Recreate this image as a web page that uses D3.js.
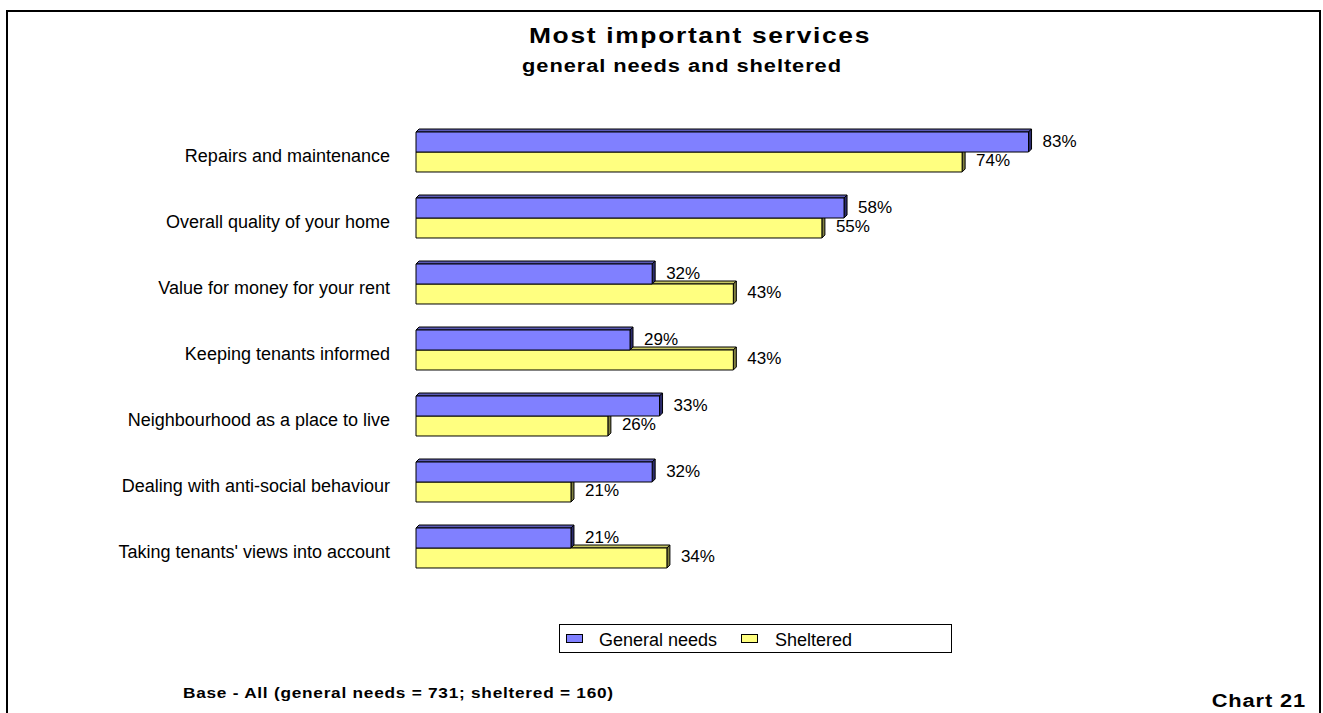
<!DOCTYPE html>
<html>
<head>
<meta charset="utf-8">
<script src="https://cdn.jsdelivr.net/npm/d3@7"></script>
<style>
  html, body { margin: 0; padding: 0; background: #fff; }
  svg { display: block; font-family: "Liberation Sans", Arial, sans-serif; }
</style>
</head>
<body>
<svg id="chart" width="1323" height="713"></svg>
<script>
// Survey results: share of tenants naming each service as most important
const categories = [
  "Repairs and maintenance",
  "Overall quality of your home",
  "Value for money for your rent",
  "Keeping tenants informed",
  "Neighbourhood as a place to live",
  "Dealing with anti-social behaviour",
  "Taking tenants' views into account"
];
const generalNeeds = [83, 58, 32, 29, 33, 32, 21];
const sheltered    = [74, 55, 43, 43, 26, 21, 34];
const seriesNames  = ["General needs", "Sheltered"];

const W = 1323, H = 713;
const svg = d3.select("#chart");

// outer frame (open at the bottom)
svg.append("path")
  .attr("d", `M7,${H} L7,11 L1320,11 L1320,${H}`)
  .attr("fill", "none").attr("stroke", "#000").attr("stroke-width", 2);

// wide bold text: horizontally stretched glyphs
function wideText(px, py, str, size, stretch, spacing, anchor) {
  return svg.append("text")
    .attr("transform", `translate(${px},${py}) scale(${stretch},1)`)
    .attr("text-anchor", anchor)
    .attr("font-size", size).attr("font-weight", "bold")
    .attr("letter-spacing", spacing)
    .text(str);
}

// titles
wideText(700, 43, "Most important services", 22, 1.2, 1.4, "middle");
wideText(682, 72, "general needs and sheltered", 19, 1.15, 0.8, "middle");

// scales
const x = d3.scaleLinear().domain([0, 100]).range([416, 1154]);
const y = d3.scaleBand().domain(categories).range([119, 581]).paddingInner(0.394).paddingOuter(0.197);
const sub = d3.scaleBand().domain(seriesNames).range([0, y.bandwidth()]);

const depth = 3;
const styles = {
  "General needs": { front: "#8080FF", top: "#5a5ab4", side: "#2c2c6e" },
  "Sheltered":     { front: "#FFFF80", top: "#c8c864", side: "#808040" }
};

// category labels
svg.append("g").selectAll("text").data(categories).join("text")
  .attr("x", 390)
  .attr("y", d => y(d) + y.bandwidth() / 2 + 10)
  .attr("text-anchor", "end")
  .attr("font-size", 18)
  .attr("fill", "#000")
  .text(d => d);

// bars drawn as 3D blocks; sheltered first so general-needs faces sit on top
const rows = [];
categories.forEach((c, i) => {
  rows.push({ cat: c, series: "Sheltered", value: sheltered[i] });
  rows.push({ cat: c, series: "General needs", value: generalNeeds[i] });
});

const bars = svg.append("g");
rows.forEach(r => {
  const x0 = x(0), x1 = x(r.value);
  const y0 = y(r.cat) + sub(r.series), y1 = y0 + sub.bandwidth();
  const s = styles[r.series];
  const g = bars.append("g").attr("stroke", "#000").attr("stroke-width", 1).attr("stroke-linejoin", "round");
  // top face
  g.append("path")
    .attr("d", `M${x0},${y0} L${x0 + depth},${y0 - depth} L${x1 + depth},${y0 - depth} L${x1},${y0} Z`)
    .attr("fill", s.top);
  // side face
  g.append("path")
    .attr("d", `M${x1},${y0} L${x1 + depth},${y0 - depth} L${x1 + depth},${y1 - depth} L${x1},${y1} Z`)
    .attr("fill", s.side);
  // front face
  g.append("rect")
    .attr("x", x0).attr("y", y0)
    .attr("width", x1 - x0).attr("height", y1 - y0)
    .attr("fill", s.front);
});

// value labels
svg.append("g").selectAll("text").data(rows).join("text")
  .attr("x", d => x(d.value) + 14)
  .attr("y", d => y(d.cat) + sub(d.series) + sub.bandwidth() / 2 + (d.series === "General needs" ? 5 : 4))
  .attr("font-size", 17)
  .attr("fill", "#000")
  .text(d => d.value + "%");

// legend
const leg = svg.append("g");
leg.append("rect").attr("x", 559.5).attr("y", 624.5).attr("width", 392).attr("height", 28)
  .attr("fill", "#fff").attr("stroke", "#000").attr("stroke-width", 1);
const legItems = [
  { name: seriesNames[0], sx: 566, tx: 599 },
  { name: seriesNames[1], sx: 741, tx: 775 }
];
legItems.forEach(it => {
  leg.append("rect").attr("x", it.sx + 0.5).attr("y", 634.5).attr("width", 16).attr("height", 8)
    .attr("fill", styles[it.name].front).attr("stroke", "#000").attr("stroke-width", 1);
  leg.append("text").attr("x", it.tx).attr("y", 646).attr("font-size", 18).text(it.name);
});

// footer notes
wideText(183, 698, "Base - All (general needs = 731; sheltered = 160)", 15, 1.15, 0.65, "start");
wideText(1306, 707, "Chart 21", 19, 1.15, 0.75, "end");
</script>
</body>
</html>
